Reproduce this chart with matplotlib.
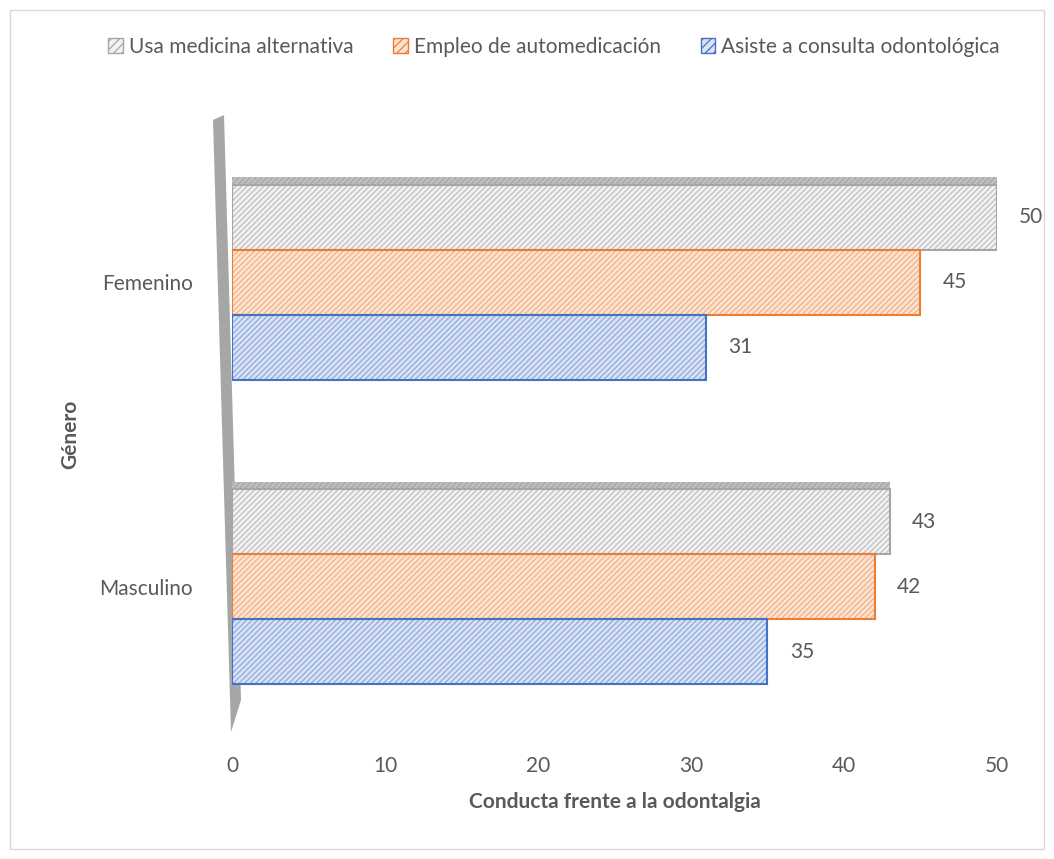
import matplotlib
matplotlib.use("Agg")
import matplotlib.pyplot as plt
from matplotlib.patches import Patch, Rectangle, Polygon
import numpy as np

categories = ["Masculino", "Femenino"]
series_names = ["Usa medicina alternativa", "Empleo de automedicación", "Asiste a consulta odontológica"]
usa_medicina = [43, 50]
automedicacion = [42, 45]
consulta = [35, 31]
xticks = [0, 10, 20, 30, 40, 50]

plt.rcParams['font.family'] = ['Lato', 'DejaVu Sans']
plt.rcParams['hatch.linewidth'] = 0.9
txt = '#595959'
fs = 15

fig = plt.figure(figsize=(10.54, 8.59), dpi=100)
ax = fig.add_axes([0.2201, 0.1397, 0.9459 - 0.2201, 0.8487 - 0.1397])

# outer frame
fig.add_artist(Rectangle((10/1054, 10/859), 1034/1054, 839/859, transform=fig.transFigure,
                         fill=False, edgecolor='#d9d9d9', linewidth=1.0))

# slanted wall (3D backdrop)
wall = Polygon([(213/1054, 1-120/859), (224/1054, 1-115/859), (241/1054, 1-700/859),
                (231/1054, 1-732/859)], closed=True, transform=fig.transFigure,
               facecolor='#a6a6a6', edgecolor='none', zorder=0)
fig.add_artist(wall)

styles = [
    dict(face='#f2f2f2', hatch='#bfbfbf', edge='#a6a6a6'),
    dict(face='#fce4d4', hatch='#f4b183', edge='#ed7d31'),
    dict(face='#dae3f3', hatch='#8faadc', edge='#4472c4'),
]
values = [usa_medicina, automedicacion, consulta]
h = 0.213
offsets = [h, 0, -h]
y = np.arange(len(categories))

for vals, st, off, name in zip(values, styles, offsets, series_names):
    ax.barh(y + off, vals, height=h, color=st['face'], edgecolor=st['hatch'],
            hatch='//////', linewidth=0, zorder=2)
    ax.barh(y + off, vals, height=h, color='none', edgecolor=st['edge'],
            linewidth=1.5, zorder=3)
    for yi, v in zip(y + off, vals):
        ax.annotate(f"{v}", (v, yi), xytext=(16, 0), textcoords='offset points',
                    va='center', ha='left', fontsize=fs, color=txt)

# 3D top face of the top bars
ax.barh(y + h + h/2 + 0.013, usa_medicina, height=0.026, color='#bfbfbf',
        edgecolor='#a6a6a6', hatch='//////', linewidth=0, zorder=2)

ax.set_xlim(0, 50)
ax.set_ylim(-0.5, 1.5)
ax.set_xticks(xticks)
ax.set_xticklabels([str(t) for t in xticks], fontsize=fs, color=txt)
ax.set_yticks(y)
ax.set_yticklabels(categories, fontsize=fs, color=txt)
ax.tick_params(length=0, pad=12)
ax.tick_params(axis='y', pad=28)
for s in ax.spines.values():
    s.set_visible(False)
ax.set_xlabel("Conducta frente a la odontalgia", fontsize=fs, fontweight='bold',
              color=txt, labelpad=12)
ax.set_ylabel("Género", fontsize=fs, fontweight='bold', color=txt, labelpad=14)
ax.patch.set_alpha(0)

handles = [Patch(facecolor=st['face'], edgecolor=st['edge'], hatch='////', linewidth=1)
           for st in styles]
fig.legend(handles, series_names, loc='center', bbox_to_anchor=(554/1054, 1-47/859),
           ncol=3, frameon=False, fontsize=fs, labelcolor=txt, handlelength=0.7,
           handleheight=0.7, handletextpad=0.3, columnspacing=1.9)

fig.savefig("out.png", dpi=100)
